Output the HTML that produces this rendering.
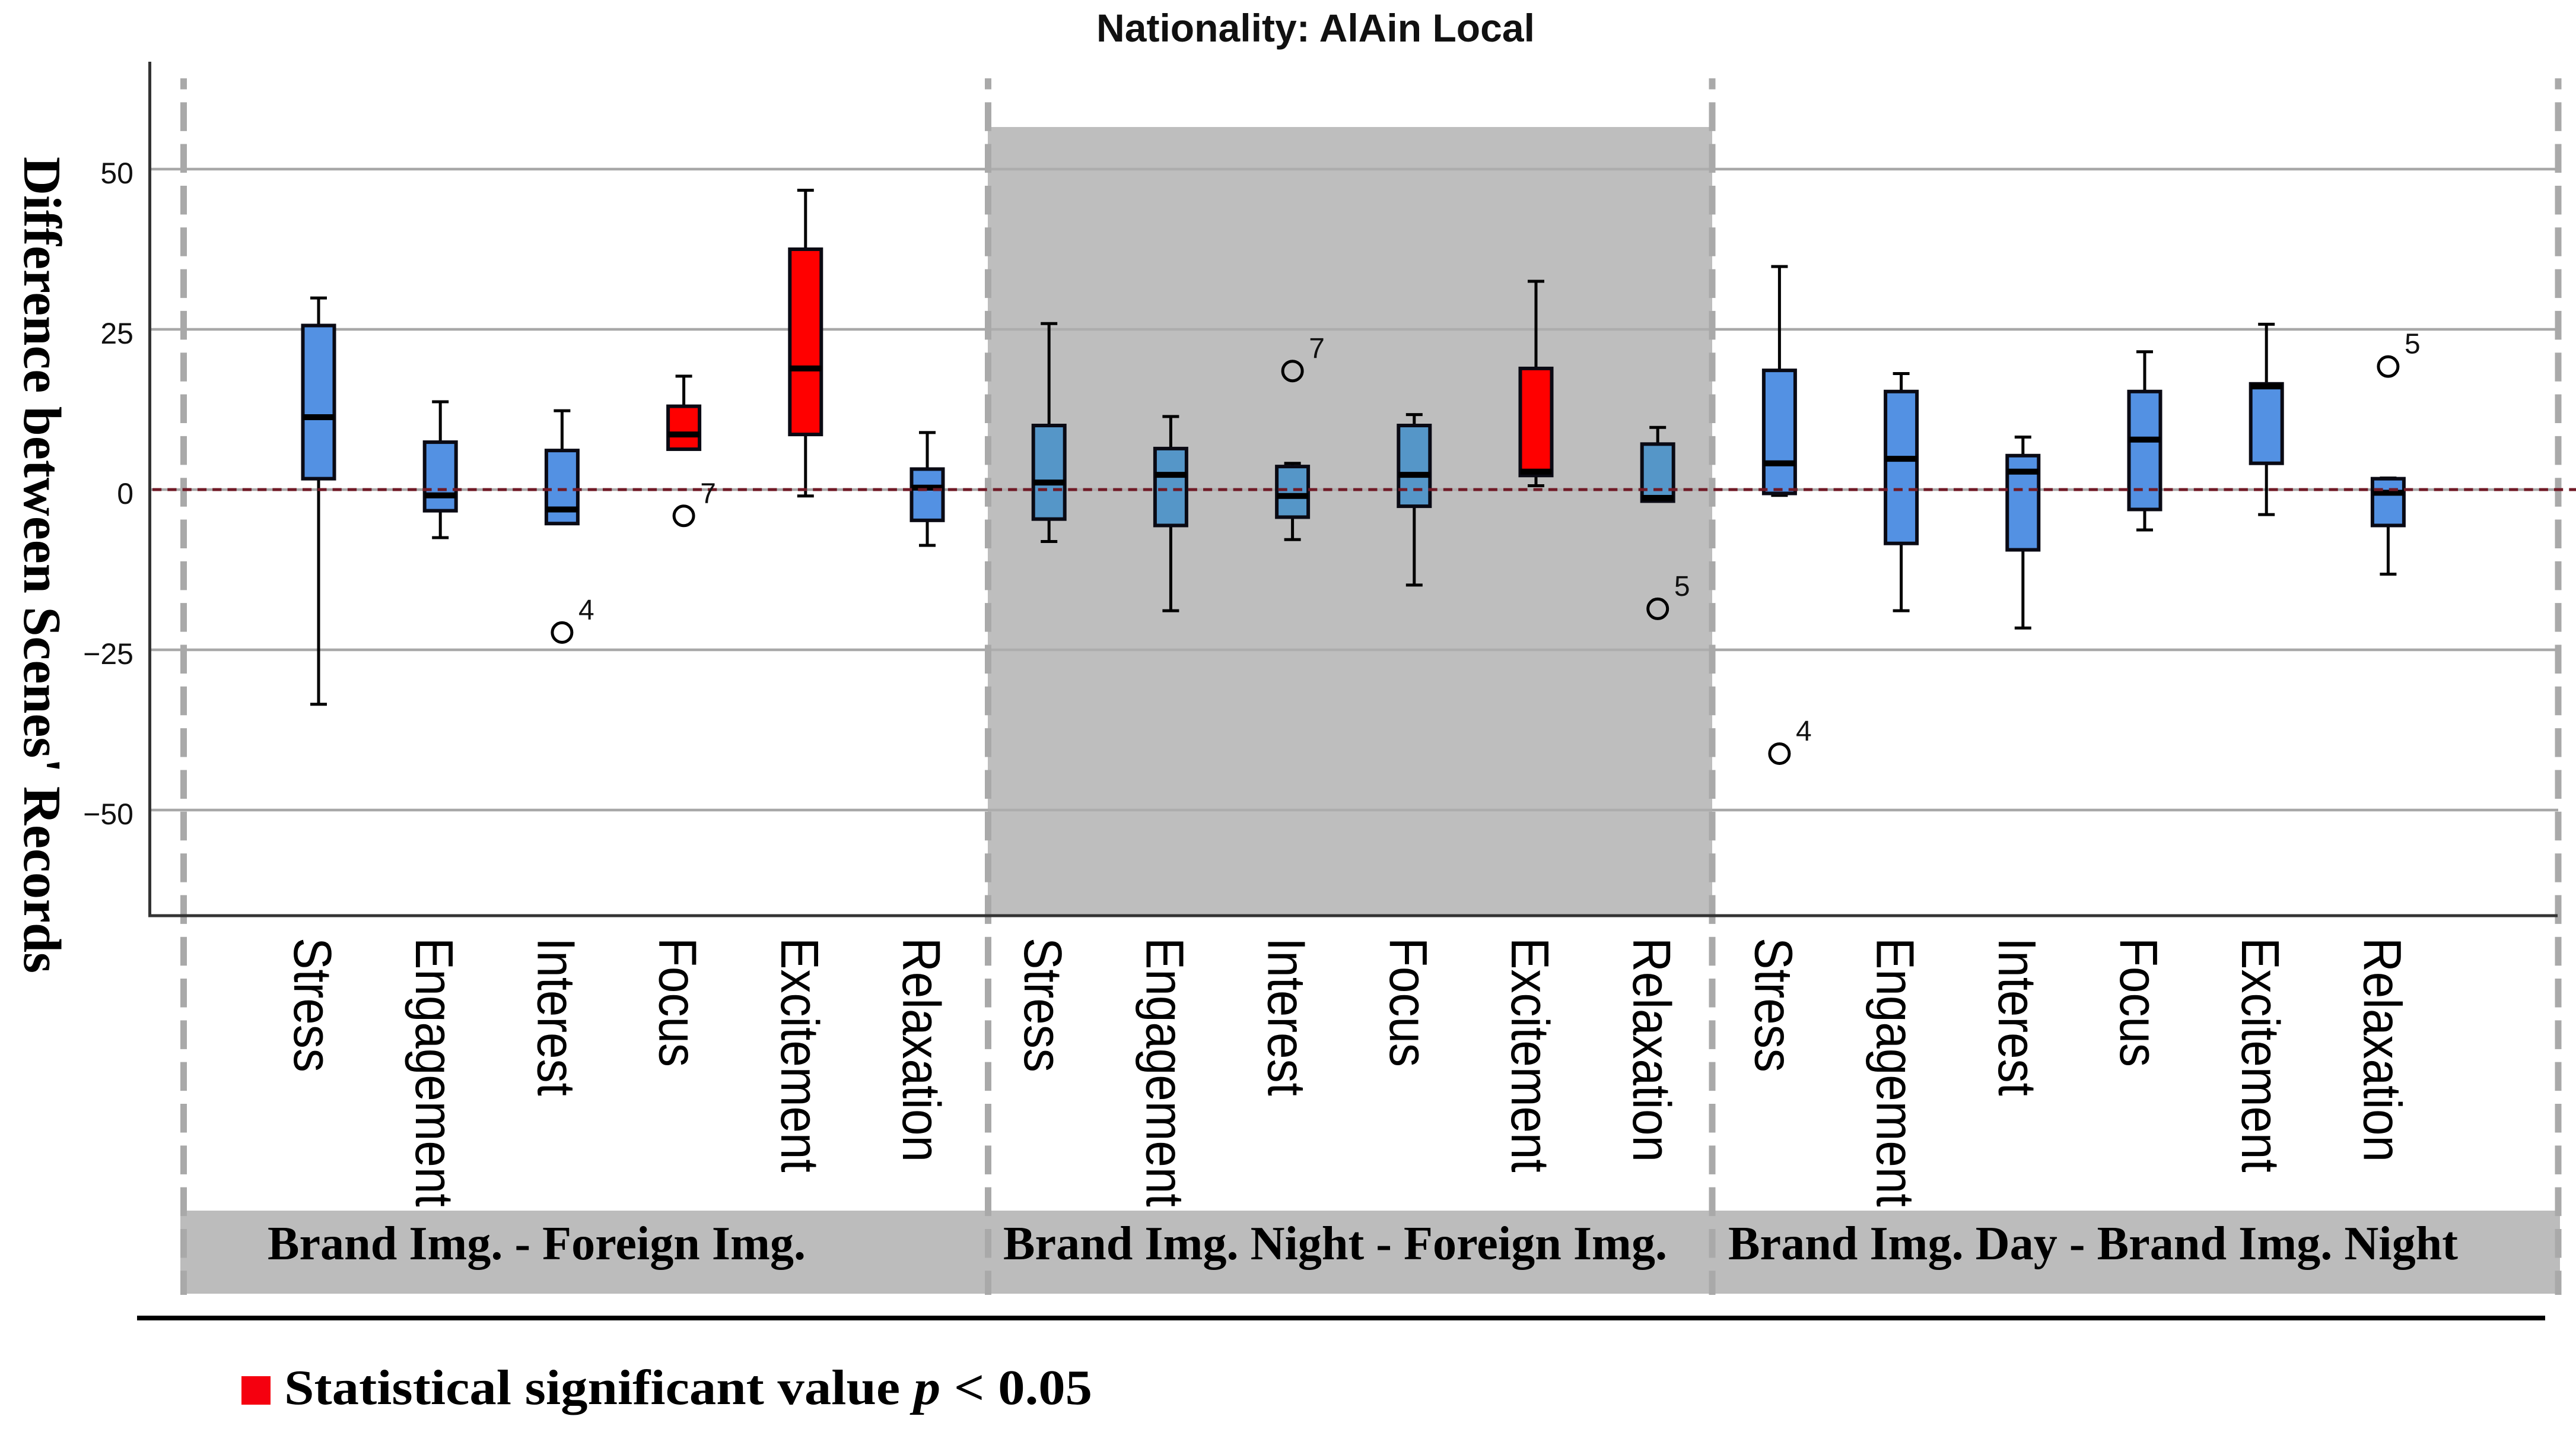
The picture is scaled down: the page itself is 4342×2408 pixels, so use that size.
<!DOCTYPE html>
<html>
<head>
<meta charset="utf-8">
<title>Nationality: AlAin Local</title>
<style>
html,body{margin:0;padding:0;background:#fff;}
svg{display:block;}
.sans{font-family:"Liberation Sans",Arial,sans-serif;}
.serif{font-family:"Liberation Serif","Times New Roman",serif;font-weight:bold;}
</style>
</head>
<body>
<svg id="chart" width="4342" height="2408" viewBox="0 0 4342 2408" xmlns="http://www.w3.org/2000/svg">
  <rect x="0" y="0" width="4342" height="2408" fill="#ffffff"/>
  <rect x="1665" y="214" width="1221" height="1329" fill="#bebebe"/>
  <g id="grid"></g>
  <g id="cats"></g>
  <rect x="304" y="2040" width="4011" height="140" fill="#bcbcbc"/>
  <g id="seps"></g>
  <line x1="252.5" y1="104" x2="252.5" y2="1545" stroke="#333" stroke-width="5"/>
  <line x1="250" y1="1543" x2="4311" y2="1543" stroke="#333" stroke-width="5"/>
  <g id="ticks"></g>
  <g id="boxes"></g>
  <g id="outliers"></g>
  <g id="groups"></g>
  <text class="sans" x="1848" y="70" font-size="66" font-weight="bold" textLength="739" lengthAdjust="spacingAndGlyphs" fill="#111">Nationality: AlAin Local</text>
  <text class="serif" transform="translate(41,264) rotate(90)" font-size="90" textLength="1376" lengthAdjust="spacingAndGlyphs" fill="#000">Difference between Scenes' Records</text>
  <line x1="231" y1="2221" x2="4290" y2="2221" stroke="#000" stroke-width="8"/>
  <rect x="407" y="2319" width="49" height="48" fill="#f5000f"/>
  <text class="serif" x="479" y="2366" font-size="84" textLength="1362" lengthAdjust="spacingAndGlyphs" fill="#000">Statistical significant value <tspan font-style="italic">p</tspan> &lt; 0.05</text>
</svg>
<script>
const categories = ["Stress","Engagement","Interest","Focus","Excitement","Relaxation",
  "Stress","Engagement","Interest","Focus","Excitement","Relaxation",
  "Stress","Engagement","Interest","Focus","Excitement","Relaxation"];
const whiskerHigh = [29.9,13.7,12.3,17.7,46.7,8.9, 25.9,11.4,4.1,11.7,32.5,9.7, 34.8,18.1,8.2,21.5,25.8,1.8];
const q3Values    = [25.6,7.4,6.1,13,37.5,3.2, 10,6.4,3.6,10,18.9,7.1, 18.6,15.3,5.3,15.3,16.5,1.7];
const medians     = [11.3,-0.9,-3.1,8.6,18.9,0.3, 1.1,2.3,-1,2.3,2.8,-1.3, 4.1,4.8,2.8,7.8,16.1,-0.5];
const q1Values    = [1.7,-3.3,-5.3,6.3,8.6,-4.8, -4.6,-5.6,-4.3,-2.6,2.2,-1.8, -0.6,-8.4,-9.4,-3.1,4.1,-5.6];
const whiskerLow  = [-33.5,-7.5,-5.3,6.3,-1,-8.7, -8.1,-18.9,-7.8,-14.9,0.6,-1.8, -0.9,-18.9,-21.6,-6.3,-3.9,-13.2];
const significant = [0,0,0,1,1,0, 0,0,0,0,1,0, 0,0,0,0,0,0];
const outlierCategory = [2,3,8,11,12,17];
const outlierValues   = [-22.3,-4.1,18.5,-18.6,-41.2,19.2];
const outlierLabels   = ["4","7","7","5","4","5"];
const yTicks = [50,25,0,-25,-50];
const tickLabels = ["50","25","0","\u221225","\u221250"];
const groupLabels = ["Brand Img. - Foreign Img.","Brand Img. Night - Foreign Img.","Brand Img. Day - Brand Img. Night"];

const NS = "http://www.w3.org/2000/svg";
const xScale = i => 537 + 205.2 * i;
const yScale = v => 825 - 10.8 * v;
const mk = (tag, attrs, parent) => {
  const el = document.createElementNS(NS, tag);
  for (const k in attrs) el.setAttribute(k, attrs[k]);
  parent.appendChild(el);
  return el;
};
const $ = id => document.getElementById(id);
const panelEdges = [309.5, 1665.5, 2886, 4312];

// gridlines
yTicks.forEach((t, k) => {
  const y = yScale(t);
  for (let p = 0; p < 3; p++) {
    const x1 = p === 0 ? 254 : panelEdges[p];
    const el = mk("line", {x1: x1, y1: y, x2: panelEdges[p + 1], y2: y, stroke: p === 1 ? "#adadad" : "#a8a8a8", "stroke-width": 4.5}, $("grid"));
    
    
  }
  const lab = mk("text", {x: 225, y: y + 24, "text-anchor": "end", "font-size": 50, fill: "#111", class: "sans"}, $("ticks"));
  
  
  lab.textContent = tickLabels[k];
});

// category labels
categories.forEach((c, i) => {
  const el = mk("text", {transform: "translate(" + (xScale(i) - 41) + ",1580) rotate(90) scale(1,1.12)", "font-size": 80, fill: "#000", class: "sans"}, $("cats"));
  
  
  el.textContent = c;
});

// panel separators
panelEdges.forEach(x => {
  const el = mk("line", {x1: x, y1: 132, x2: x, y2: 2182, stroke: "#a9a9a9", "stroke-width": 11, "stroke-dasharray": "48.5 21.82", "stroke-dashoffset": 30}, $("seps"));
  
  
});

categories.forEach((c, i) => {
  const cx = xScale(i);
  const inPanel = i >= 6 && i < 12;
  const fill = significant[i] ? "#ff0000" : (inPanel ? "#5596c8" : "#5391e3");
  const g = mk("g", {}, $("boxes"));
  
  
  const stem = mk("line", {x1: cx, y1: yScale(whiskerHigh[i]), x2: cx, y2: yScale(whiskerLow[i]), stroke: "#000", "stroke-width": 5}, g);
  
  
  [whiskerHigh[i], whiskerLow[i]].forEach(v => {
    const cap = mk("line", {x1: cx - 14, y1: yScale(v), x2: cx + 14, y2: yScale(v), stroke: "#000", "stroke-width": 5}, g);
    
    
  });
  const box = mk("rect", {x: cx - 26.5, y: yScale(q3Values[i]), width: 53, height: yScale(q1Values[i]) - yScale(q3Values[i]), fill: fill, stroke: "#0a0a14", "stroke-width": 6}, g);
  
  
  const med = mk("line", {x1: cx - 26.5, y1: yScale(medians[i]), x2: cx + 26.5, y2: yScale(medians[i]), stroke: "#000", "stroke-width": 10}, g);
  
  
});

const zero = mk("line", {x1: 257, y1: yScale(0), x2: 4342, y2: yScale(0), stroke: "#701a26", "stroke-width": 5, "stroke-dasharray": "15.2 10.1"}, $("boxes"));



// outliers
outlierCategory.forEach((c, k) => {
  const cx = xScale(c), cy = yScale(outlierValues[k]);
  const o = mk("circle", {cx: cx, cy: cy, r: 16.5, fill: "none", stroke: "#000", "stroke-width": 5}, $("outliers"));
  
  
  const t = mk("text", {x: cx + 41, y: cy - 22, "text-anchor": "middle", "font-size": 48, fill: "#111", class: "sans"}, $("outliers"));
  
  
  t.textContent = outlierLabels[k];
});

// group labels: start x and fitted width for each label
const groupStart = [451, 1691, 2913];
const groupWidth = [907, 1119, 1230];
groupLabels.forEach((s, k) => {
  const t = mk("text", {x: groupStart[k], y: 2122, "font-size": 80, textLength: groupWidth[k], lengthAdjust: "spacingAndGlyphs", fill: "#000", class: "serif"}, $("groups"));
  
  
  t.textContent = s;
});
</script>
</body>
</html>
